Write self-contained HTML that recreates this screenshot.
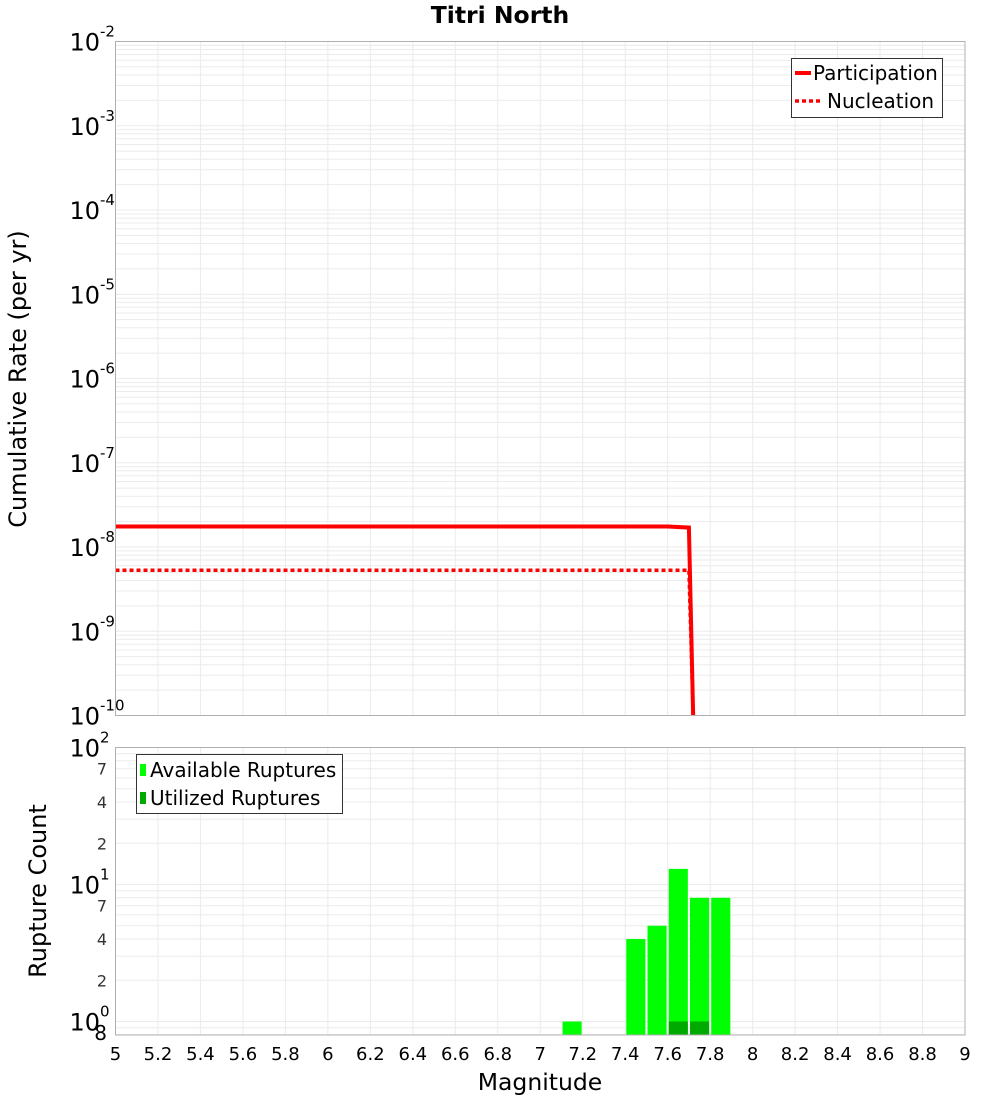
<!DOCTYPE html>
<html><head><meta charset="utf-8">
<style>
html,body{margin:0;padding:0;background:#fff;}
svg{display:block;font-family:"DejaVu Sans","Liberation Sans",sans-serif;}
</style></head>
<body>
<svg id="chart" width="1000" height="1100" viewBox="0 0 1000 1100"></svg>
<script>
const xTicks=[5,5.2,5.4,5.6,5.8,6,6.2,6.4,6.6,6.8,7,7.2,7.4,7.6,7.8,8,8.2,8.4,8.6,8.8,9];
const partMag=[5,7.6,7.7,7.72];
const partRate=[1.75e-8,1.75e-8,1.7e-8,1e-10];
const nuclMag=[5,7.7,7.72];
const nuclRate=[5.3e-9,5.3e-9,1e-10];
const barMag=[7.15,7.45,7.55,7.65,7.75,7.85];
const barAvail=[1,4,5,13,8,8];
const barUsed=[0,0,0,1,1,0];
const topExps=[-2,-3,-4,-5,-6,-7,-8,-9,-10];

const svg=document.getElementById('chart');
const NS='http://www.w3.org/2000/svg';
function mk(tag,attrs,parent){const e=document.createElementNS(NS,tag);for(const k in attrs)e.setAttribute(k,attrs[k]);(parent||svg).appendChild(e);return e;}
const X0=115.5,X1=965;
const xs=m=>X0+(m-5)/4*(X1-X0);
const T0=41.5,T1=715.5;
const ty=v=>T0+(-2-Math.log10(v))/8*(T1-T0);
const B0=747.5,B1=1035;
const bdec=137;
const by=v=>B0+(2-Math.log10(v))*bdec;

let t=mk('text',{x:500,y:23,'text-anchor':'middle','font-size':23.5,'font-weight':'bold',fill:'#000'});
t.textContent='Titri North';



let g=mk('g',{});


mk('rect',{x:X0,y:T0,width:X1-X0,height:T1-T0,fill:'#fff'},g);
for(let e=-10;e<-2;e++){for(let k=1;k<10;k++){const v=k*Math.pow(10,e);const y=ty(v);mk('line',{x1:X0,x2:X1,y1:y,y2:y,stroke:'#ebebeb','stroke-width':1},g);}}
xTicks.forEach(m=>{mk('line',{x1:xs(m),x2:xs(m),y1:T0,y2:T1,stroke:'#ebebeb','stroke-width':1},g);});
topExps.forEach(e=>{const y=ty(Math.pow(10,e));
 const tx=mk('text',{x:100,y:y+9,'text-anchor':'end','font-size':24,fill:'#000'},g);tx.textContent='10';
 
 
 const s=mk('text',{x:100,y:y-5,'font-size':15,fill:'#000'},g);s.textContent=String(e);});
let p='';partMag.forEach((m,i)=>{p+=(i?'L':'M')+xs(m)+','+ty(partRate[i]);});
let l1=mk('path',{d:p,fill:'none',stroke:'#ff0000','stroke-width':4},g);


p='';nuclMag.forEach((m,i)=>{p+=(i?'L':'M')+xs(m)+','+ty(nuclRate[i]);});
let l2=mk('path',{d:p,fill:'none',stroke:'#ff0000','stroke-width':3.5,'stroke-dasharray':'4,3'},g);


mk('rect',{x:X0,y:T0,width:X1-X0,height:T1-T0,fill:'none',stroke:'#b0b0b0','stroke-width':1},g);
let lg=mk('g',{});


mk('rect',{x:791.5,y:58.5,width:151,height:59,fill:'#fff',stroke:'#333','stroke-width':1},lg);
mk('line',{x1:795,x2:811,y1:73,y2:73,stroke:'#f00','stroke-width':4},lg);
mk('line',{x1:795,x2:822,y1:101,y2:101,stroke:'#f00','stroke-width':3.5,'stroke-dasharray':'4,3'},lg);
t=mk('text',{x:813,y:80,'font-size':20,fill:'#000'},lg);t.textContent='Participation';
t=mk('text',{x:827,y:108,'font-size':20,fill:'#000'},lg);t.textContent='Nucleation';
t=mk('text',{x:0,y:0,'font-size':24,fill:'#000','text-anchor':'middle',transform:'translate(26,379) rotate(-90)'});
t.textContent='Cumulative Rate (per yr)';



let g2=mk('g',{});


mk('rect',{x:X0,y:B0,width:X1-X0,height:B1-B0,fill:'#fff'},g2);
for(let e=-1;e<2;e++){for(let k=1;k<10;k++){const v=k*Math.pow(10,e);if(v<0.79)continue;const y=by(v);mk('line',{x1:X0,x2:X1,y1:y,y2:y,stroke:'#ebebeb','stroke-width':1},g2);}}
xTicks.forEach(m=>{mk('line',{x1:xs(m),x2:xs(m),y1:B0,y2:B1,stroke:'#ebebeb','stroke-width':1},g2);});
[2,1,0].forEach(e=>{const y=by(Math.pow(10,e));
 const tx=mk('text',{x:100,y:y+9,'text-anchor':'end','font-size':24,fill:'#000'},g2);tx.textContent='10';
 const s=mk('text',{x:100,y:y-5,'font-size':15,fill:'#000'},g2);s.textContent=String(e);});
[[7,1],[4,1],[2,1],[7,0],[4,0],[2,0]].forEach(([k,e])=>{const y=by(k*Math.pow(10,e));
 const s=mk('text',{x:107,y:y+6,'text-anchor':'end','font-size':16,fill:'#333'},g2);s.textContent=String(k);});
t=mk('text',{x:107,y:1040,'text-anchor':'end','font-size':20,fill:'#000'},g2);t.textContent='8';
barMag.forEach((m,i)=>{const x=xs(m-0.045),w=xs(m+0.045)-x;
 const y=by(barAvail[i]);
 const r=mk('rect',{x:x,y:y,width:w,height:B1-y,fill:'#00ff00'},g2);
 
 
 if(barUsed[i]>0){const yu=by(barUsed[i]);
  const r2=mk('rect',{x:x,y:yu,width:w,height:B1-yu,fill:'#00aa00'},g2);
  
  }});
mk('rect',{x:X0,y:B0,width:X1-X0,height:B1-B0,fill:'none',stroke:'#b0b0b0','stroke-width':1},g2);
let lg2=mk('g',{});


mk('rect',{x:136.5,y:754.5,width:206,height:59,fill:'#fff',stroke:'#333','stroke-width':1},lg2);
mk('rect',{x:140,y:764,width:6,height:12,fill:'#00ff00'},lg2);
mk('rect',{x:140,y:792,width:6,height:12,fill:'#00aa00'},lg2);
t=mk('text',{x:150,y:777,'font-size':20,fill:'#000'},lg2);t.textContent='Available Ruptures';
t=mk('text',{x:150,y:805,'font-size':20,fill:'#000'},lg2);t.textContent='Utilized Ruptures';
t=mk('text',{x:0,y:0,'font-size':24,fill:'#000','text-anchor':'middle',transform:'translate(46,891) rotate(-90)'});
t.textContent='Rupture Count';


xTicks.forEach(m=>{const s=mk('text',{x:xs(m),y:1060,'text-anchor':'middle','font-size':18,fill:'#000'});
 s.textContent=String(m);
 
 });
t=mk('text',{x:540,y:1090,'font-size':23.5,fill:'#000','text-anchor':'middle'});
t.textContent='Magnitude';


</script>
</body></html>
